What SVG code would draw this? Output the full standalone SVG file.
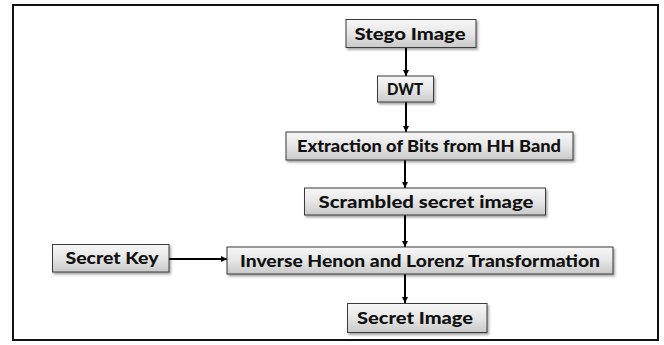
<svg xmlns="http://www.w3.org/2000/svg" width="664" height="345" viewBox="0 0 664 345">
<defs>
<linearGradient id="g" x1="0" y1="0" x2="0" y2="1">
<stop offset="0" stop-color="#f7f7f7"/>
<stop offset="0.5" stop-color="#e6e6e6"/>
<stop offset="1" stop-color="#c9c9c9"/>
</linearGradient>
<filter id="sh" x="-10%" y="-20%" width="130%" height="160%">
<feDropShadow dx="1.5" dy="2" stdDeviation="1" flood-color="#000" flood-opacity="0.35"/>
</filter>
<marker id="ah" viewBox="0 0 10 10" refX="10" refY="5" markerWidth="3" markerHeight="3" orient="auto" markerUnits="strokeWidth">
<path d="M0,0 L10,5 L0,10 z" fill="#000"/>
</marker>
<style>
.box{fill:url(#g);stroke:#3a3a3a;stroke-width:1;filter:url(#sh)}
.t{font-family:"Lato","Liberation Sans",sans-serif;font-weight:900;font-size:16px;fill:#111;text-anchor:middle}
.c{stroke:#000;stroke-width:2;fill:none;marker-end:url(#ah)}
</style>
</defs>
<rect x="0" y="0" width="664" height="345" fill="#fff"/>
<rect x="13" y="5" width="645" height="335" fill="none" stroke="#111" stroke-width="2"/>
<g id="connectors">
<line class="c" x1="406" y1="47" x2="406" y2="76"/>
<line class="c" x1="406" y1="102" x2="406" y2="132"/>
<line class="c" x1="405" y1="160" x2="405" y2="188"/>
<line class="c" x1="405" y1="215" x2="405" y2="247"/>
<line class="c" x1="405" y1="274" x2="405" y2="303"/>
<line class="c" x1="169" y1="259" x2="227" y2="259"/>
</g>
<g id="stego">
<rect class="box" x="346" y="19.5" width="130" height="28"/>
<text class="t" x="410" y="39.5" textLength="111" lengthAdjust="spacingAndGlyphs">Stego Image</text>
</g>
<g id="dwt">
<rect class="box" x="377.5" y="76" width="56" height="26"/>
<text class="t" x="405" y="94.5" textLength="36" lengthAdjust="spacingAndGlyphs">DWT</text>
</g>
<g id="extraction">
<rect class="box" x="286" y="132" width="287" height="28"/>
<text class="t" x="429" y="152" textLength="264" lengthAdjust="spacingAndGlyphs">Extraction of Bits from HH Band</text>
</g>
<g id="scrambled">
<rect class="box" x="304.5" y="188" width="241" height="27"/>
<text class="t" x="426" y="207.5" textLength="215" lengthAdjust="spacingAndGlyphs">Scrambled secret image</text>
</g>
<g id="secretkey">
<rect class="box" x="52.5" y="244.5" width="116.5" height="27.5"/>
<text class="t" x="112" y="264" textLength="93" lengthAdjust="spacingAndGlyphs">Secret Key</text>
</g>
<g id="inverse">
<rect class="box" x="227" y="247" width="386" height="27"/>
<text class="t" x="420" y="266.5" textLength="360" lengthAdjust="spacingAndGlyphs">Inverse Henon and Lorenz Transformation</text>
</g>
<g id="secretimage">
<rect class="box" x="347.5" y="303.5" width="139.5" height="29"/>
<text class="t" x="415" y="324" textLength="116" lengthAdjust="spacingAndGlyphs">Secret Image</text>
</g>
</svg>
